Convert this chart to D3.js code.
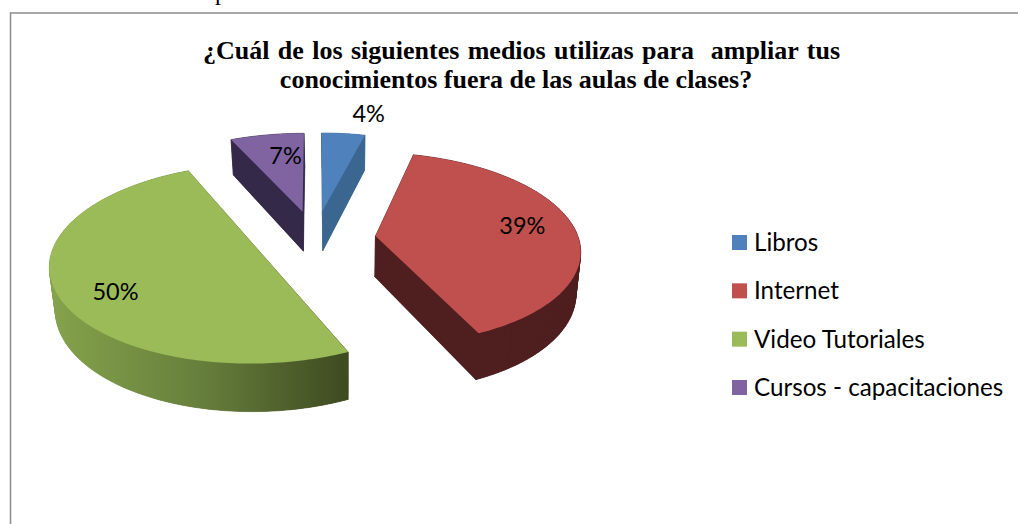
<!DOCTYPE html>
<html><head><meta charset="utf-8">
<script src="https://cdnjs.cloudflare.com/ajax/libs/d3/7.8.5/d3.min.js"></script>
<style>html,body{margin:0;padding:0;background:#fff;overflow:hidden}svg{display:block}</style>
</head><body><svg id="c" width="1018" height="524"></svg>
<script>
const categories = ["Libros","Internet","Video Tutoriales","Cursos - capacitaciones"];
const values = [4,39.2,50,6.8];
const labels = ["4%","39%","50%","7%"];
const titleLines = ["¿Cuál de los siguientes medios utilizas para  ampliar tus","conocimientos fuera de las aulas de clases?"];
const topColors = ["#4f81bd","#c0504d","#9bbb59","#8064a2"];
const sideColors = ["#3a6690","#4f1f1f","url(#gs)","#35294a"];

const svg = d3.select("#c");
const defs = svg.append("defs");
const g = defs.append("linearGradient").attr("id","gs").attr("gradientUnits","userSpaceOnUse")
  .attr("x1",52).attr("x2",348).attr("y1",0).attr("y2",0);
g.append("stop").attr("offset",0).attr("stop-color","#84a34b");
g.append("stop").attr("offset",0.5).attr("stop-color","#677f3c");
g.append("stop").attr("offset",1).attr("stop-color","#3e4a20");

// frame and clipped text line above it
svg.append("path").attr("d","M1018,13 H10.5 V524").attr("fill","none").attr("stroke","#8c8c8c").attr("stroke-width",1.5);
svg.append("text").attr("x",215).attr("y",0).attr("font-family","Liberation Serif").attr("font-size",24).text("p");

// projection
const R=203,k=0.468,P=0.13,E=0.3,cx=315,cy=238.5,H=41;
function proj(X,Y){const s=1/(1+P*Y);return [cx+R*X*s,cy-R*k*Y*s,s];}
function down(p){return [345+(p[0]-345)*0.98,p[1]+H*p[2]];}

const pie=d3.pie().sort(null).value(d=>d);
const arcs=pie(values);
const line=d3.line().curve(d3.curveLinear);
const gp=svg.append("g");

arcs.forEach((a,i)=>{
  const mid=(a.startAngle+a.endAngle)/2, ox=E*Math.sin(mid), oy=E*Math.cos(mid);
  const n=Math.max(4,Math.ceil((a.endAngle-a.startAngle)/0.02));
  const ang=d3.range(n+1).map(j=>a.startAngle+(a.endAngle-a.startAngle)*j/n);
  const apex=proj(ox,oy);
  const rim=ang.map(t=>proj(ox+Math.sin(t),oy+Math.cos(t)));
  const top=[apex,...rim];
  const bot=top.map(down);
  const sl=gp.append("g");
  const side=sideColors[i];
  sl.append("path").attr("d",line(bot)+"Z").attr("fill",side);
  top.forEach((p,j)=>{
    const q=top[(j+1)%top.length];
    sl.append("path").attr("d",line([p,q,down(q),down(p)])+"Z").attr("fill",side).attr("stroke",side).attr("stroke-width",0.6);
  });
  sl.append("path").attr("d",line(top)+"Z").attr("fill",topColors[i]);
});

// data labels: placed by polar position relative to each slice
const labelPolar=[[0.216,1.312],[1.429,0.748],[4.158,0.756],[-0.145,0.693]];
arcs.forEach((a,i)=>{
  const mid=(a.startAngle+a.endAngle)/2, ox=E*Math.sin(mid), oy=E*Math.cos(mid);
  const [t,r]=labelPolar[i];
  const p=proj(ox+r*Math.sin(t),oy+r*Math.cos(t));
  svg.append("text").attr("x",p[0]).attr("y",p[1]).attr("dy","0.35em").attr("text-anchor","middle")
    .attr("font-family","Lato").attr("font-size",23.5).attr("fill","#000").text(labels[i]);
});

// title
svg.selectAll(".t").data(titleLines).join("text").attr("class","t")
  .attr("x",(d,i)=>i?516:521.5).attr("y",(d,i)=>59+i*29).attr("text-anchor","middle").attr("xml:space","preserve").style("white-space","pre")
  .attr("word-spacing",(d,i)=>i?0:1.9)
  .attr("font-family","Liberation Serif").attr("font-weight","bold").attr("font-size",26).attr("fill","#000").text(d=>d);

// legend
const ly=d3.scalePoint().domain(categories).range([242.5,387.5]);
const lg=svg.selectAll(".l").data(categories).join("g").attr("class","l").attr("transform",d=>`translate(732,${ly(d)})`);
lg.append("rect").attr("x",0).attr("y",-7.5).attr("width",15).attr("height",15).attr("fill",(d,i)=>topColors[i]);
lg.append("text").attr("x",22).attr("y",8.5).attr("font-family","Lato").attr("font-size",24.2).attr("fill","#000").text(d=>d);
</script></body></html>
